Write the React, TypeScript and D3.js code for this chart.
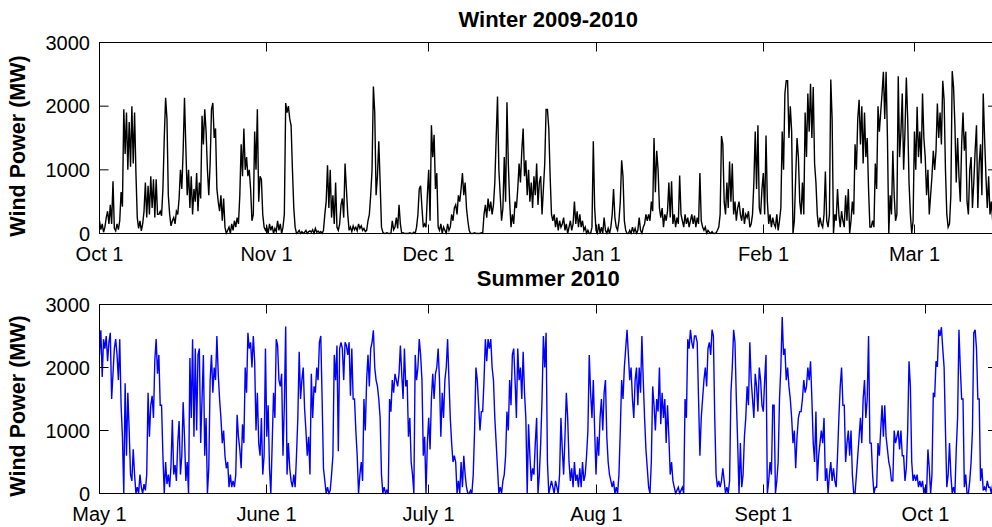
import React from "react";
import * as d3 from "d3";

// Wind power output (MW), sampled every 6 hours.
const SAMPLES_PER_DAY = 4;
const DAY_SPAN = 166.3;

const winterTitle = "Winter 2009-2010";
const summerTitle = "Summer 2010";
const yLabel = "Wind Power (MW)";
const yTicks = [0, 1000, 2000, 3000];

const winterTickDays = [0, 31, 61, 92, 123, 151];
const winterTickLabels = ["Oct 1", "Nov 1", "Dec 1", "Jan 1", "Feb 1", "Mar 1"];
const summerTickDays = [0, 31, 61, 92, 123, 153];
const summerTickLabels = ["May 1", "June 1", "July 1", "Aug 1", "Sept 1", "Oct 1"];

// From Oct 1 2009
const winterMW = [
  200, 60, 150, 20, 100, 250, 350, 150, 450, 150, 820, 80, 40, 150, 60, 200,
  650, 420, 1950, 1250, 1900, 1000, 1750, 1050, 2000, 1100, 1900, 950, 250, 80, 200, 40,
  150, 350, 800, 250, 750, 300, 900, 400, 850, 250, 850, 300, 300, 350, 280, 700,
  1500, 2130, 1800, 600, 300, 120, 200, 250, 150, 350, 300, 550, 1000, 700, 1300, 2130,
  1350, 600, 1000, 400, 900, 300, 700, 500, 950, 350, 800, 550, 1850, 1400, 1950, 1600,
  1000, 600, 1100, 1950, 2050, 1500, 1650, 700, 500, 350, 600, 200, 550, 100, 0, 50,
  100, 0, 150, 50, 200, 100, 250, 150, 600, 1400, 900, 1650, 1000, 1200, 900, 1000,
  700, 200, 300, 1600, 1000, 1950, 500, 900, 850, 300, 100, 50, 100, 0, 150, 50,
  120, 0, 80, 30, 200, 50, 150, 0, 100, 300, 2050, 1900, 2000, 1800, 1700, 1000,
  400, 100, 0, 20, 50, 0, 30, 0, 20, 50, 0, 30, 40, 20, 60, 0,
  80, 20, 40, 10, 30, 0, 50, 300, 500, 1070, 400, 1000, 250, 600, 150, 800,
  100, 50, 150, 450, 550, 250, 1100, 700, 300, 50, 100, 30, 120, 60, 100, 40,
  150, 80, 120, 50, 80, 30, 50, 200, 300, 600, 1000, 2310, 1900, 600, 900, 1450,
  800, 100, 20, 0, 0, 10, 0, 0, 0, 200, 60, 100, 250, 80, 450, 150,
  0, 10, 0, 0, 0, 0, 10, 0, 0, 20, 0, 100, 300, 700, 750, 400,
  100, 150, 100, 600, 1000, 200, 1700, 1200, 1550, 700, 950, 100, 50, 150, 0, 100,
  50, 0, 150, 50, 100, 300, 200, 400, 450, 300, 600, 500, 700, 950, 600, 800,
  400, 200, 50, 0, 0, 0, 10, 0, 0, 0, 0, 10, 0, 300, 450, 250,
  550, 350, 500, 300, 450, 800, 1500, 2150, 1000, 600, 200, 400, 1200, 500, 2060, 1100,
  500, 100, 300, 150, 500, 400, 700, 1100, 800, 1300, 1650, 900, 1150, 600, 1000, 500,
  800, 400, 900, 600, 1100, 450, 800, 900, 300, 700, 1100, 1950, 1950, 1650, 900, 300,
  200, 300, 100, 250, 50, 200, 100, 150, 250, 50, 150, 0, 100, 200, 50, 150,
  500, 150, 350, 100, 300, 100, 200, 50, 100, 0, 50, 0, 0, 100, 1450, 400,
  50, 0, 150, 0, 100, 0, 250, 50, 0, 80, 0, 100, 300, 700, 250, 100,
  50, 200, 500, 1150, 900, 200, 50, 0, 0, 50, 0, 100, 20, 80, 0, 50,
  250, 50, 0, 100, 150, 300, 200, 300, 200, 500, 350, 1500, 650, 1300, 1000, 400,
  250, 400, 100, 300, 200, 350, 800, 250, 820, 150, 300, 100, 250, 150, 910, 300,
  200, 100, 300, 150, 250, 100, 200, 300, 150, 280, 100, 250, 150, 950, 200, 100,
  50, 100, 0, 50, 20, 0, 30, 0, 0, 10, 50, 100, 300, 1530, 1400, 500,
  300, 800, 400, 1130, 500, 1100, 300, 500, 200, 400, 500, 300, 200, 400, 150, 300,
  250, 350, 100, 150, 300, 800, 1600, 700, 1700, 400, 300, 700, 950, 300, 1540, 500,
  150, 300, 100, 250, 150, 100, 300, 50, 200, 400, 1600, 1000, 2200, 2400, 2400, 1500,
  2000, 1600, 0, 200, 900, 1500, 1200, 500, 300, 800, 300, 1900, 1200, 2200, 1600, 2350,
  1500, 2300, 1100, 800, 300, 100, 250, 150, 100, 300, 975, 200, 100, 300, 2420, 1800,
  0, 300, 200, 700, 300, 100, 350, 200, 100, 600, 200, 700, 0, 200, 500, 300,
  1400, 1000, 1800, 2100, 1400, 2000, 1100, 1900, 1200, 1500, 700, 100, 100, 200, 100, 1100,
  700, 2000, 1600, 1900, 2200, 2540, 1800, 2540, 1500, 0, 600, 300, 1300, 600, 200, 300,
  2470, 1200, 1600, 2200, 1000, 1600, 2450, 1800, 800, 300, 0, 200, 1600, 1000, 1990, 1200,
  1600, 1100, 2200, 1500, 1200, 600, 1000, 300, 600, 900, 1300, 1000, 1300, 2040, 1500, 1900,
  1400, 2400, 2100, 1000, 300, 100, 150, 600, 2550, 2300, 1700, 800, 1500, 900, 500, 1400,
  1900, 1300, 1600, 500, 300, 1000, 1200, 400, 800, 1300, 1700, 400, 1100, 1400, 600, 2200,
  1500, 900, 400, 900, 300, 500, 200, 100, 150, 300,
];

// From May 1 2010
const summerMW = [
  2200, 2590, 1850, 2450, 2300, 2500, 2100, 2400, 2550, 1500, 1900, 2300, 2450, 2200, 1800, 2450,
  1400, 900, 0, 1750, 600, 1600, 1000, 300, 200, 700, 300, 0, 100, 0, 300, 100,
  0, 150, 50, 300, 1600, 900, 1400, 1550, 1200, 2110, 2450, 1900, 2200, 1400, 1400, 600,
  0, 500, 150, 300, 100, 450, 1170, 300, 450, 200, 800, 1150, 300, 600, 1450, 900,
  200, 500, 0, 2150, 1200, 2450, 900, 2300, 1000, 2200, 2300, 800, 1500, 2200, 600, 1200,
  0, 400, 1800, 2200, 1600, 2000, 1800, 2500, 1900, 1500, 1200, 800, 1000, 600, 400, 500,
  100, 300, 100, 200, 100, 300, 1250, 900, 700, 400, 1100, 800, 2000, 1600, 2550, 2300,
  2400, 2000, 2500, 2100, 1000, 1600, 800, 600, 1200, 300, 600, 2300, 900, 1400, 400, 0,
  800, 1600, 1200, 2450, 2350, 1800, 1700, 1900, 600, 1400, 2650, 300, 800, 400, 200, 100,
  300, 100, 600, 1200, 2250, 1500, 1800, 2000, 1350, 1000, 600, 900, 300, 1900, 1200, 1700,
  1600, 2000, 1800, 2400, 2500, 1500, 400, 200, 0, 100, 0, 50, 300, 600, 2200, 1800,
  2350, 670, 2300, 2400, 2300, 1800, 2400, 2350, 2200, 2400, 1550, 2300, 1500, 1500, 1000, 600,
  0, 300, 500, 200, 1500, 1000, 1800, 2200, 1700, 2300, 2400, 2590, 2000, 1800, 1700, 1500,
  1200, 300, 0, 100, 0, 50, 0, 1500, 1300, 1800, 1600, 1900, 1800, 1700, 1900, 2350,
  1900, 1500, 2300, 1700, 1800, 900, 1200, 500, 300, 0, 2200, 1800, 2000, 2450, 2200, 1800,
  600, 900, 0, 800, 1200, 700, 1500, 1900, 1500, 1900, 2000, 2300, 1800, 900, 1600, 1200,
  1800, 2000, 2450, 1800, 1200, 800, 500, 600, 500, 0, 200, 0, 500, 100, 600, 300,
  100, 0, 0, 50, 0, 300, 1000, 2000, 1800, 1400, 1000, 1300, 1300, 1800, 2450, 2100,
  2450, 2300, 2450, 2000, 1800, 1200, 800, 400, 0, 100, 0, 200, 300, 600, 1300, 1000,
  1800, 1400, 2200, 2300, 1800, 1200, 2300, 1800, 2000, 1500, 2250, 1600, 1200, 0, 1100, 600,
  200, 400, 300, 800, 1200, 0, 300, 800, 1500, 2500, 2000, 2550, 500, 0, 100, 200,
  100, 0, 200, 100, 0, 300, 1200, 700, 300, 900, 1600, 1200, 500, 200, 400, 100,
  500, 200, 300, 100, 400, 100, 500, 200, 300, 600, 1000, 2200, 1600, 1200, 1800, 1000,
  300, 900, 600, 1200, 1500, 1000, 1600, 1800, 900, 500, 300, 200, 100, 200, 0, 100,
  0, 300, 1000, 1800, 1500, 2000, 2300, 2600, 2200, 1800, 2000, 1500, 1200, 1800, 2000, 1400,
  2000, 1600, 2500, 1800, 1200, 700, 400, 100, 0, 500, 1700, 1400, 1000, 1500, 1300, 2000,
  1100, 1600, 1200, 1500, 800, 1400, 900, 300, 500, 200, 100, 0, 50, 100, 0, 50,
  100, 0, 1500, 1200, 2450, 2300, 2600, 2400, 2300, 2500, 2500, 2400, 1500, 600, 1200, 1500,
  1800, 2000, 1700, 2300, 2400, 2200, 2600, 2500, 1200, 300, 100, 200, 100, 200, 400, 200,
  0, 100, 0, 200, 1600, 2000, 2600, 2400, 1500, 800, 0, 800, 100, 300, 900, 1200,
  1700, 1400, 2400, 1800, 1500, 1200, 1900, 1700, 1300, 2000, 1800, 1400, 1300, 1800, 2200, 0,
  200, 500, 300, 1400, 1400, 0, 200, 500, 1500, 2000, 2800, 2200, 2300, 1800, 2000, 1700,
  1500, 1200, 800, 1000, 400, 900, 1200, 1300, 1300, 1500, 1800, 1600, 1700, 2000, 1800, 2100,
  1500, 800, 500, 1300, 200, 600, 800, 1000, 800, 1200, 200, 400, 0, 300, 500, 200,
  400, 200, 100, 600, 1200, 1700, 2000, 1400, 1400, 500, 800, 1000, 600, 1000, 300, 0,
  0, 300, 600, 900, 1200, 800, 1500, 1800, 1200, 1500, 2500, 800, 800, 300, 0, 100,
  100, 800, 600, 1000, 1400, 900, 1400, 900, 700, 500, 400, 200, 200, 1000, 800, 900,
  1000, 700, 1000, 600, 600, 200, 400, 1000, 2100, 1700, 500, 200, 300, 200, 300, 100,
  200, 100, 200, 0, 100, 0, 700, 400, 0, 300, 1600, 1530, 2100, 2010, 2600, 2500,
  2640, 2300, 2000, 1000, 100, 300, 800, 300, 0, 100, 0, 700, 1200, 2600, 2000, 1500,
  1500, 100, 300, 0, 0, 200, 500, 1000, 2550, 2600, 2300, 1500, 1500, 200, 400, 50,
  100, 50, 200, 100, 100, 0, 150, 100, 50, 100,
];

const W = 992;
const H = 527;
const LEFT = 99.5;
const RIGHT = 997;
const TICK_LEN = 9;
const FONT = "'Liberation Sans', Arial, Helvetica, sans-serif";

type PanelProps = {
  id: string;
  bottom: number;
  top: number;
  values: number[];
  color: string;
  title: string;
  titleBaseline: number;
  tickDays: number[];
  tickLabels: string[];
  labelCenter: number;
};

function Panel({ id, bottom, top, values, color, title, titleBaseline, tickDays, tickLabels, labelCenter }: PanelProps) {
  const x = d3.scaleLinear().domain([0, DAY_SPAN]).range([LEFT, RIGHT]);
  const y = d3.scaleLinear().domain([0, 3000]).range([bottom, top]);
  const line = d3
    .line<number>()
    .x((_, i) => x(i / SAMPLES_PER_DAY))
    .y((d) => y(d));
  const crisp = (v: number) => Math.floor(v) + 0.5;

  return (
    <g>
      <defs>
        <clipPath id={id}>
          <rect x={LEFT} y={top - 1} width={RIGHT - LEFT} height={bottom - top + 2} />
        </clipPath>
      </defs>
      <path
        d={line(values) ?? ""}
        fill="none"
        stroke={color}
        strokeWidth={1.4}
        strokeLinejoin="miter"
        clipPath={`url(#${id})`}
      />
      <rect x={LEFT} y={top} width={RIGHT - LEFT} height={bottom - top} fill="none" stroke="#000" strokeWidth={1} />
      {tickDays.map((d, i) => {
        const px = crisp(x(d));
        return (
          <g key={`xt${i}`}>
            <line x1={px} x2={px} y1={bottom} y2={bottom - TICK_LEN} stroke="#000" />
            <line x1={px} x2={px} y1={top} y2={top + TICK_LEN} stroke="#000" />
            <text x={px} y={bottom + 27} textAnchor="middle" fontSize={20} fontFamily={FONT} fill="#000">
              {tickLabels[i]}
            </text>
          </g>
        );
      })}
      {yTicks.map((v) => {
        const py = y(v);
        return (
          <g key={`yt${v}`}>
            <line x1={LEFT} x2={LEFT + TICK_LEN} y1={py} y2={py} stroke="#000" />
            <line x1={RIGHT - TICK_LEN} x2={RIGHT} y1={py} y2={py} stroke="#000" />
            <text x={90} y={py + 7} textAnchor="end" fontSize={20} fontFamily={FONT} fill="#000">
              {v}
            </text>
          </g>
        );
      })}
      <text x={(LEFT + RIGHT) / 2} y={titleBaseline} textAnchor="middle" fontSize={22} fontWeight="bold" fontFamily={FONT} fill="#000">
        {title}
      </text>
      <text
        transform={`translate(25,${labelCenter}) rotate(-90)`}
        textAnchor="middle"
        fontSize={21.5}
        fontWeight="bold"
        fontFamily={FONT}
        fill="#000"
      >
        {yLabel}
      </text>
    </g>
  );
}

export default function App() {
  return (
    <svg
      width={W}
      height={H}
      viewBox={`0 0 ${W} ${H}`}
      style={{ position: "absolute", left: 0, top: 0, background: "#fff" }}
    >
      <rect width={W} height={H} fill="#fff" />
      <Panel
        id="clip-winter"
        bottom={233.5}
        top={42.5}
        values={winterMW}
        color="#000000"
        title={winterTitle}
        titleBaseline={27}
        tickDays={winterTickDays}
        tickLabels={winterTickLabels}
        labelCenter={146}
      />
      <Panel
        id="clip-summer"
        bottom={493.5}
        top={304.5}
        values={summerMW}
        color="#0000ff"
        title={summerTitle}
        titleBaseline={286}
        tickDays={summerTickDays}
        tickLabels={summerTickLabels}
        labelCenter={406}
      />
    </svg>
  );
}
